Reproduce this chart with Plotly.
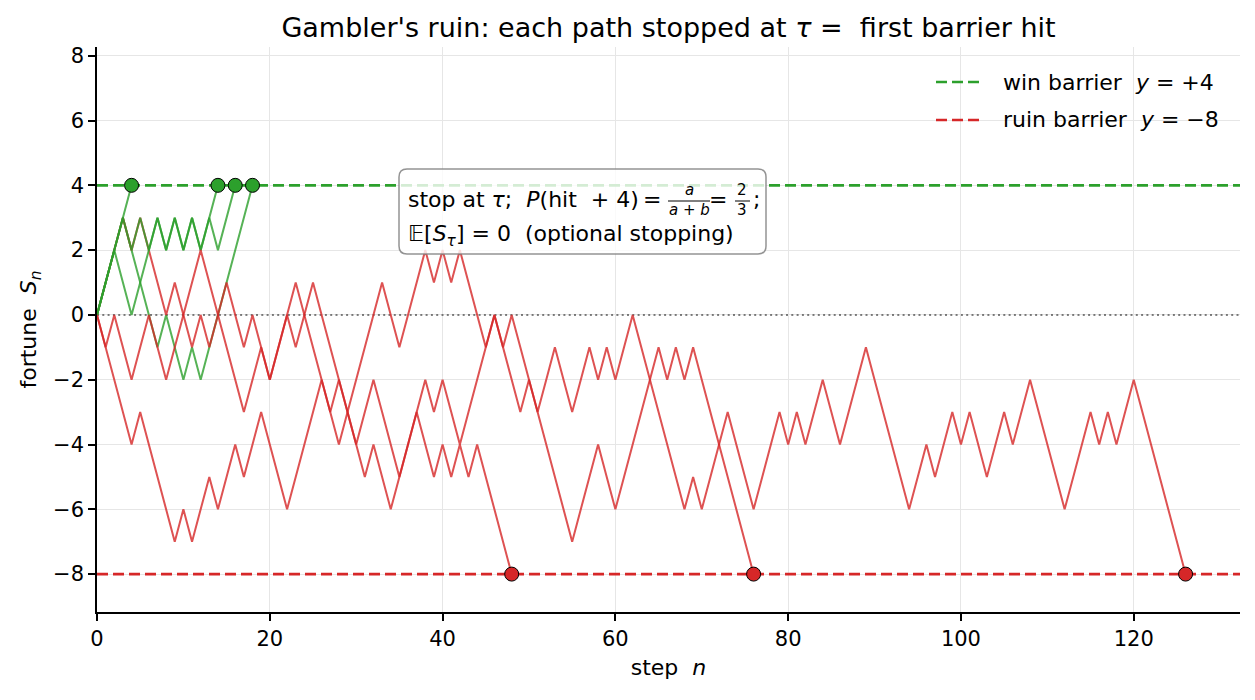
import plotly.graph_objects as go

# ---------------- data ----------------
# fortune S_n after each step n, one list per path (each stops at its barrier)
win_path_a = [0, 1, 2, 3, 4]
win_path_b = [0, 1, 2, 3, 2, 3, 2, 3, 2, 3, 2, 3, 2, 3, 4]
win_path_c = [0, 1, 2, 1, 0, 1, 2, 3, 2, 3, 2, 3, 2, 3, 2, 3, 4]
win_path_d = [0, 1, 2, 3, 2, 1, 0, -1, 0, -1, -2, -1, -2, -1, 0, 1, 2, 3, 4]

ruin_path_a = [0, -1, -2, -3, -4, -3, -4, -5, -6, -7, -6, -7, -6, -5, -6, -5, -4, -5, -4, -3,
               -4, -5, -6, -5, -4, -3, -2, -3, -2, -3, -4, -5, -4, -5, -6, -5, -4, -3,
               -4, -5, -4, -5, -4, -5, -4, -5, -6, -7, -8]
ruin_path_b = [0, -1, 0, -1, -2, -1, 0, -1, -2, -1, 0, 1, 2, 1, 0, -1, -2, -3, -2, -1,
               -2, -1, 0, -1, 0, 1, 0, -1, -2, -3, -4, -3, -2, -3, -4, -5, -4, -3,
               -2, -3, -2, -3, -4, -3, -2, -1, 0, -1, 0, -1, -2, -3,
               -4, -5, -6, -7, -6, -5, -4, -5, -6, -5, -4, -3, -2,
               -1, -2, -1, -2, -1, -2, -3, -4, -5, -6, -7, -8]
ruin_path_c = [0, 1, 2, 3, 2, 3, 2, 1, 0, 1, 0, -1, 0, -1, 0, 1, 0, -1, 0, -1, -2, -1, 0,
               1, 0, -1, -2, -3, -4, -3, -2, -1, 0, 1, 0, -1, 0, 1, 2, 1, 2, 1, 2, 1, 0, -1, 0,
               -1, -2, -3, -2, -3,
               -2, -1, -2, -3, -2, -1, -2, -1, -2, -1, 0,
               -1, -2, -3, -4, -5, -6, -5, -6, -5, -4, -3, -4, -5, -6,
               -5, -4, -3, -4, -3, -4, -3, -2, -3, -4, -3, -2, -1, -2, -3, -4, -5, -6,
               -5, -4, -5, -4, -3, -4, -3, -4, -5, -4, -3, -4, -3, -2,
               -3, -4, -5, -6, -5, -4, -3, -4, -3, -4, -3, -2, -3, -4, -5, -6, -7, -8]

win_paths = [win_path_d, win_path_a, win_path_b, win_path_c]
ruin_paths = [ruin_path_c, ruin_path_b, ruin_path_a]

win_level = 4
ruin_level = -8
x_ticks = [0, 20, 40, 60, 80, 100, 120]
y_ticks = [-8, -6, -4, -2, 0, 2, 4, 6, 8]

GREEN = "#2ca02c"
RED = "#d62728"
FONT = "DejaVu Sans"

fig = go.Figure()

X_MAX = 132.3
Y_MIN, Y_MAX = -9.17, 8.27

# zero reference line
fig.add_trace(go.Scatter(x=[0, X_MAX], y=[0, 0], mode="lines",
                         line=dict(color="rgba(0,0,0,0.65)", width=1.5, dash="2px,3.3px"),
                         hoverinfo="skip", showlegend=False))

def add_path(path, color):
    fig.add_trace(go.Scatter(x=list(range(len(path))), y=path, mode="lines",
                             line=dict(color=color, width=2.0), opacity=0.8,
                             hoverinfo="skip", showlegend=False))

order = [("g", win_path_d), ("r", ruin_path_c), ("g", win_path_a), ("g", win_path_b),
         ("g", win_path_c), ("r", ruin_path_b), ("r", ruin_path_a)]
for kind, p in order:
    add_path(p, GREEN if kind == "g" else RED)

# barriers
fig.add_trace(go.Scatter(x=[0, X_MAX], y=[win_level, win_level], mode="lines",
                         line=dict(color=GREEN, width=2.6, dash="11px,5px"),
                         name="win barrier  <i>y</i> = +4", showlegend=False))
fig.add_trace(go.Scatter(x=[0, X_MAX], y=[ruin_level, ruin_level], mode="lines",
                         line=dict(color=RED, width=2.6, dash="11px,5px"),
                         name="ruin barrier  <i>y</i> = −8", showlegend=False))

# stopping points
fig.add_trace(go.Scatter(x=[len(p) - 1 for p in win_paths], y=[p[-1] for p in win_paths],
                         mode="markers", marker=dict(color=GREEN, size=14,
                                                     line=dict(color="black", width=1)),
                         showlegend=False, hoverinfo="skip"))
fig.add_trace(go.Scatter(x=[len(p) - 1 for p in ruin_paths], y=[p[-1] for p in ruin_paths],
                         mode="markers", marker=dict(color=RED, size=14,
                                                     line=dict(color="black", width=1)),
                         showlegend=False, hoverinfo="skip"))

W, H = 1255, 700
L, R, T, B = 97, 15, 47, 88
PW, PH = W - L - R, H - T - B

def px(xp):
    return (xp - L) / PW

def py(yp):
    return (H - B - yp) / PH

shapes = []
annots = []

# manual legend
for yy, col, label in [(82, GREEN, "win barrier  <i>y</i> = +4"),
                       (120, RED, "ruin barrier  <i>y</i> = −8")]:
    shapes.append(dict(type="line", xref="paper", yref="paper", x0=px(936), x1=px(983),
                       y0=py(yy), y1=py(yy), line=dict(color=col, width=2.6, dash="11px,5px")))
    annots.append(dict(xref="paper", yref="paper", x=px(1001), y=py(yy), text=label,
                       showarrow=False, xanchor="left", yanchor="middle",
                       font=dict(family=FONT, size=22, color="black")))

# annotation box (rounded)
bx0, bx1, by0, by1 = px(399), px(766), py(254), py(169)
rx, ry = 8 / PW, 8 / PH
path = (f"M {bx0+rx},{by0} L {bx1-rx},{by0} Q {bx1},{by0} {bx1},{by0+ry} "
        f"L {bx1},{by1-ry} Q {bx1},{by1} {bx1-rx},{by1} L {bx0+rx},{by1} "
        f"Q {bx0},{by1} {bx0},{by1-ry} L {bx0},{by0+ry} Q {bx0},{by0} {bx0+rx},{by0} Z")
shapes.append(dict(type="path", xref="paper", yref="paper", path=path,
                   fillcolor="rgba(255,255,255,0.8)", line=dict(color="rgba(128,128,128,0.85)", width=1.5),
                   layer="above"))

def txt(xp, yp, s, size=22, anchor="left"):
    annots.append(dict(xref="paper", yref="paper", x=px(xp), y=py(yp), text=s, showarrow=False,
                       xanchor=anchor, yanchor="middle",
                       font=dict(family=FONT, size=size, color="black")))

txt(406, 199, "stop at <i>τ</i>;  <i>P</i>(hit  + 4)")
txt(652, 199, "=", 22, "center")
txt(689, 190, "<i>a</i>", 15, "center")
txt(689, 210, "<i>a</i> + <i>b</i>", 15, "center")
shapes.append(dict(type="line", xref="paper", yref="paper", x0=px(668), x1=px(710),
                   y0=py(201), y1=py(201), line=dict(color="black", width=1)))
txt(718, 199, "=", 22, "center")
txt(742, 190, "2", 15, "center")
txt(742, 210, "3", 15, "center")
shapes.append(dict(type="line", xref="paper", yref="paper", x0=px(735), x1=px(750),
                   y0=py(201), y1=py(201), line=dict(color="black", width=1)))
txt(751, 199, ";")
txt(406, 235, "𝔼[<i>S</i><sub><i>τ</i></sub>] = 0  (optional stopping)")

fig.update_layout(
    width=W, height=H,
    margin=dict(l=L, r=R, t=T, b=B, autoexpand=False),
    paper_bgcolor="white", plot_bgcolor="white",
    font=dict(family=FONT, size=21, color="black"),
    title=dict(text="Gambler's ruin: each path stopped at <i>τ</i> =  first barrier hit",
               xref="paper", x=0.5, xanchor="center", y=1 - 28 / H, yanchor="middle",
               font=dict(family=FONT, size=27, color="black")),
    shapes=shapes, annotations=annots, showlegend=False,
)
fig.update_xaxes(range=[0, X_MAX], tickvals=x_ticks, showgrid=True, gridcolor="#e6e6e6", gridwidth=1,
                 zeroline=False, showline=True, linecolor="black", linewidth=1.5,
                 ticks="outside", ticklen=7, tickwidth=1.5, tickcolor="black",
                 tickfont=dict(family=FONT, size=21),
                 title=dict(text="step  <i>n</i>", font=dict(family=FONT, size=22), standoff=10),
                 automargin=False)
fig.update_yaxes(range=[Y_MIN, Y_MAX], tickvals=y_ticks, showgrid=True, gridcolor="#e6e6e6", gridwidth=1,
                 zeroline=False, showline=True, linecolor="black", linewidth=1.5,
                 ticks="outside", ticklen=7, tickwidth=1.5, tickcolor="black",
                 tickfont=dict(family=FONT, size=21),
                 title=dict(text="fortune  <i>S</i><sub><i>n</i></sub>", font=dict(family=FONT, size=22), standoff=10),
                 automargin=False)

fig.write_html("out.html")
